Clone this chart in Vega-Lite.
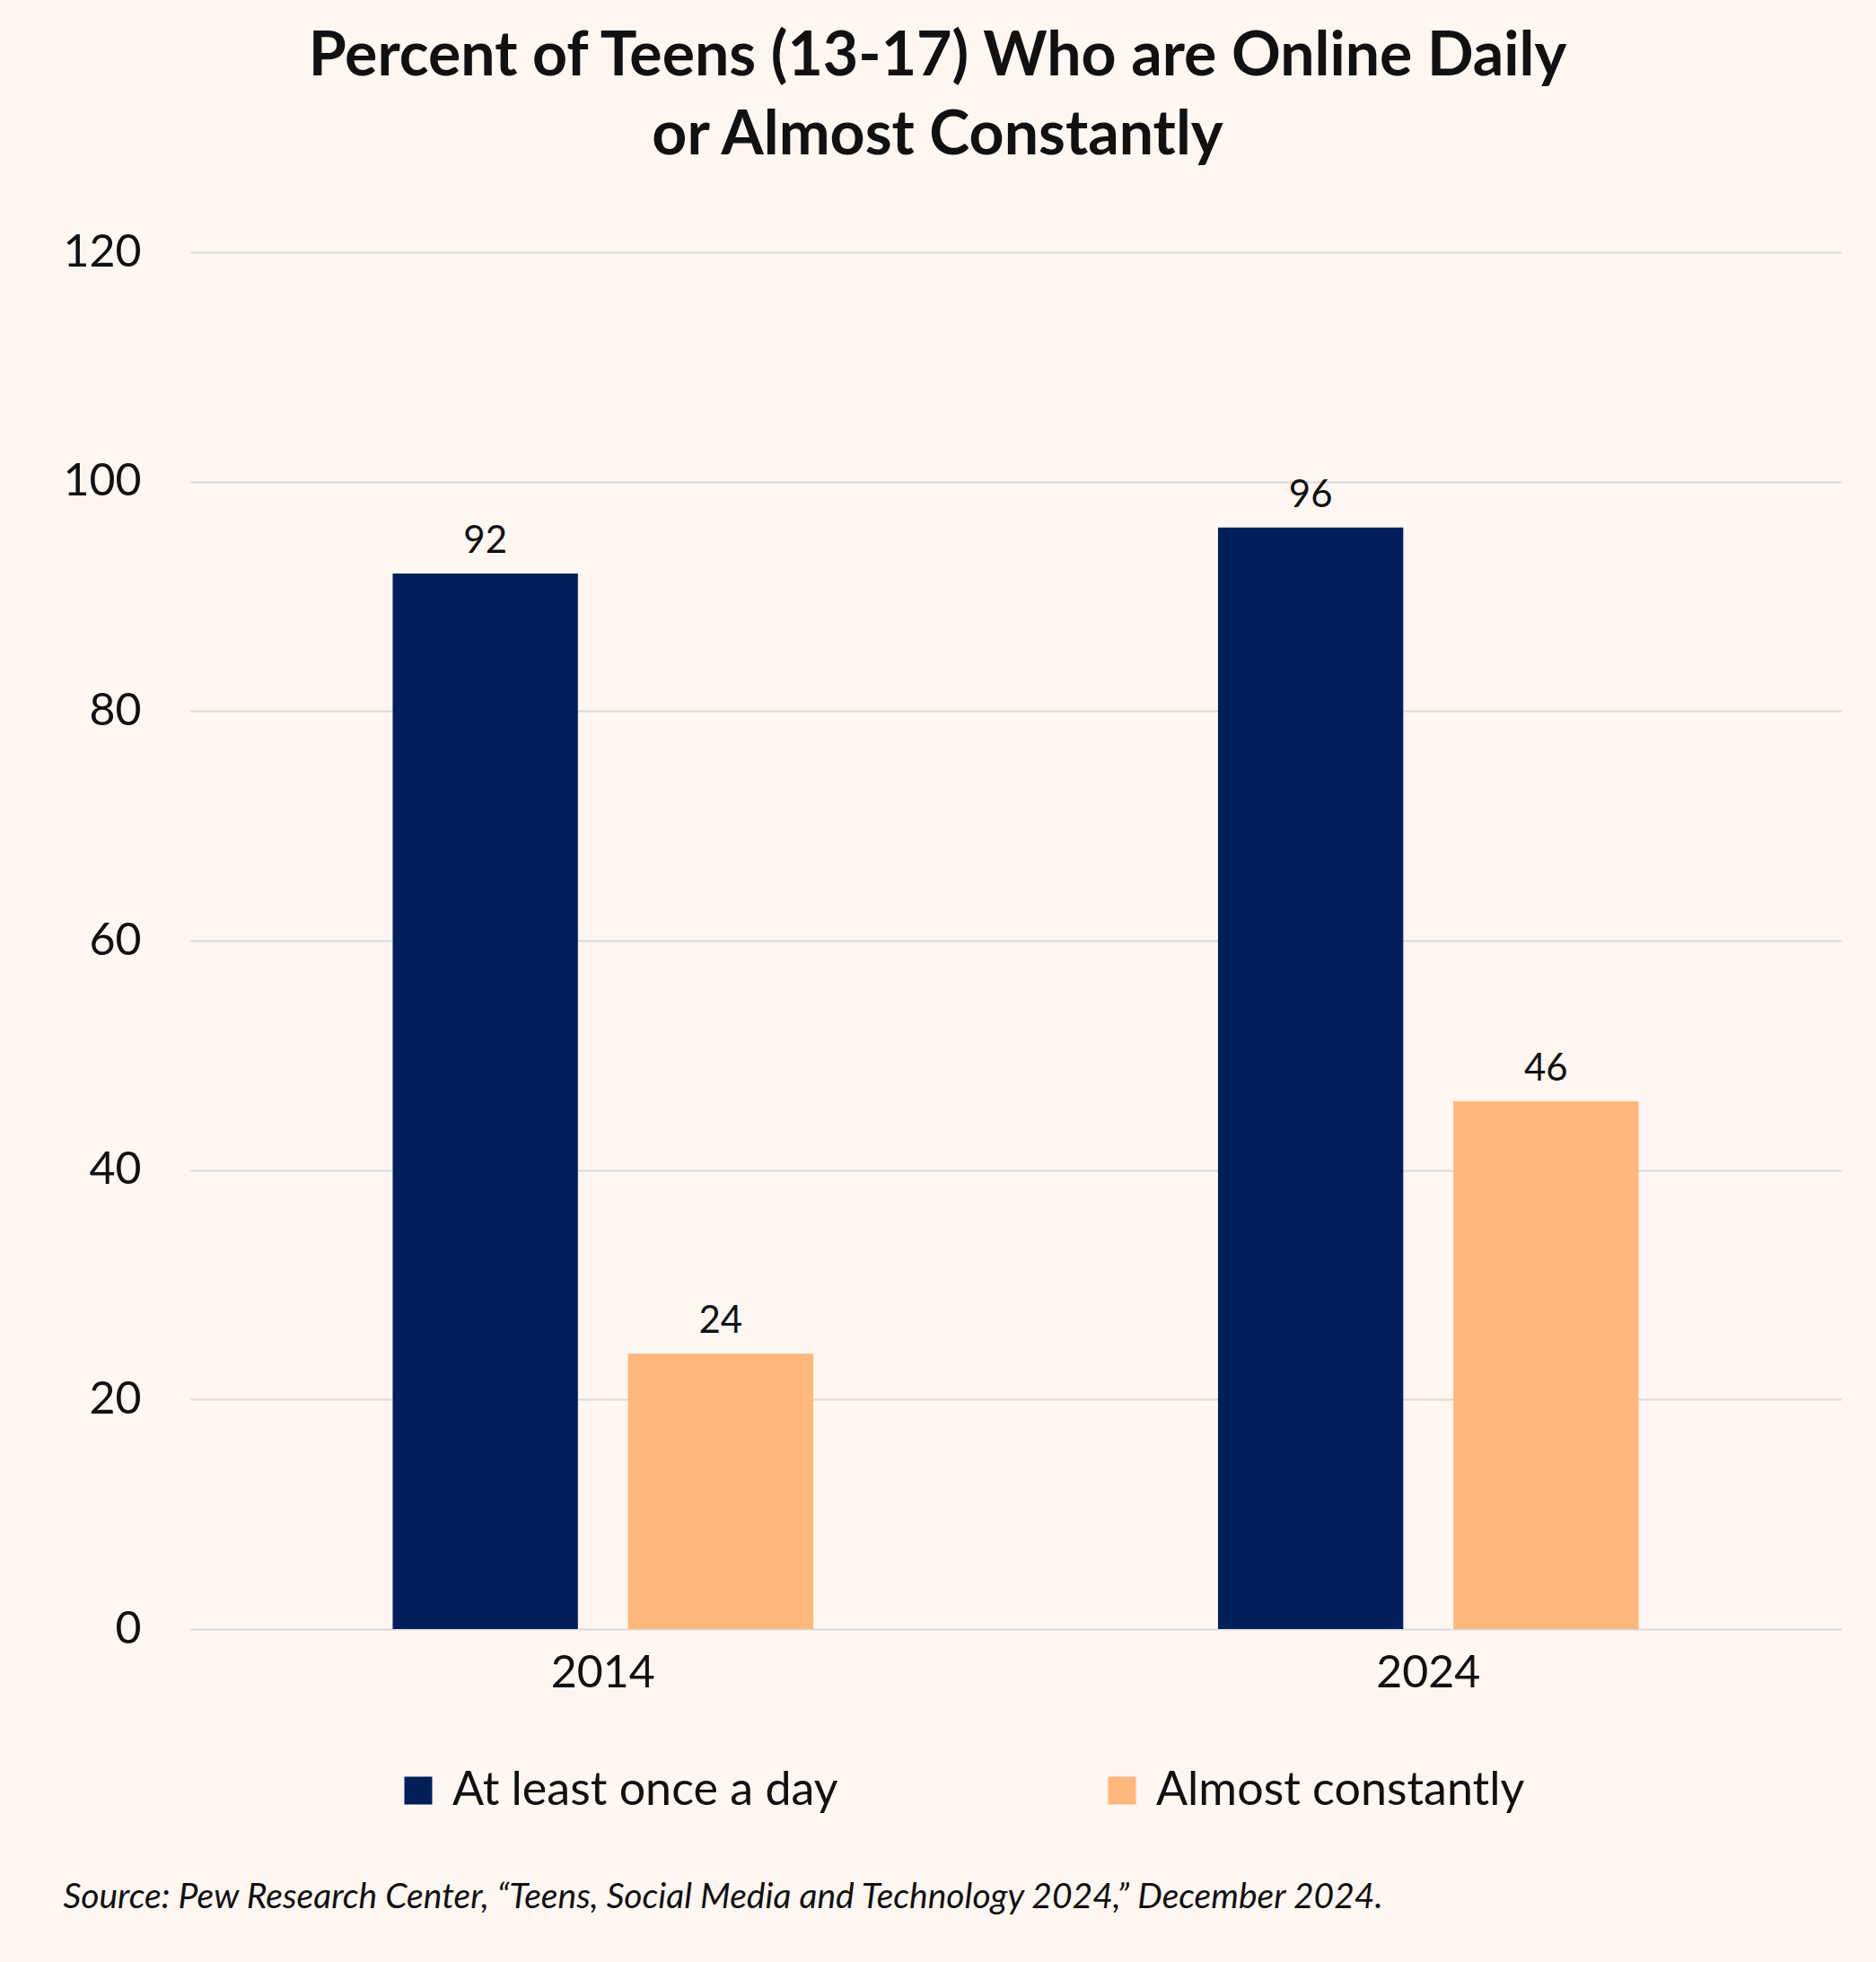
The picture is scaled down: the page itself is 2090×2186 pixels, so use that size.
{
  "$schema": "https://vega.github.io/schema/vega-lite/v6.json",
  "autosize": "none",
  "width": 1839,
  "height": 1534,
  "padding": {"left": 212, "top": 281, "right": 39, "bottom": 371},
  "background": "#fdf6f1",
  "title": {
    "text": ["Percent of Teens (13-17) Who are Online Daily", "or Almost Constantly"],
    "font": "Lato",
    "fontWeight": "bold",
    "fontSize": 68,
    "lineHeight": 88,
    "color": "#111111",
    "anchor": "middle",
    "dx": -87,
    "offset": 70
  },
  "data": {
    "values": [
      {"year": "2014", "series": "At least once a day", "value": 92},
      {"year": "2014", "series": "Almost constantly", "value": 24},
      {"year": "2024", "series": "At least once a day", "value": 96},
      {"year": "2024", "series": "Almost constantly", "value": 46}
    ]
  },
  "config": {
    "view": {"stroke": null},
    "font": "Lato"
  },
  "encoding": {
    "x": {
      "field": "year",
      "type": "nominal",
      "scale": {"paddingInner": 0, "paddingOuter": 0},
      "axis": {
        "title": "Source: Pew Research Center, \u201cTeens, Social Media and Technology 2024,\u201d December 2024.",
        "titleFont": "Lato",
        "titleFontStyle": "italic",
        "titleFontWeight": "normal",
        "titleFontSize": 39,
        "titleColor": "#111111",
        "titleAnchor": "start",
        "titleAlign": "left",
        "titleBaseline": "alphabetic",
        "titleX": -142,
        "titleY": 310,
        "labelAngle": 0,
        "labelFontSize": 50,
        "labelColor": "#111111",
        "labelPadding": 24,
        "ticks": false,
        "domain": false
      }
    },
    "xOffset": {
      "field": "series",
      "type": "nominal",
      "sort": ["At least once a day", "Almost constantly"],
      "scale": {"paddingInner": 0.213, "paddingOuter": 0.86}
    },
    "y": {
      "field": "value",
      "type": "quantitative",
      "scale": {"domain": [0, 120]},
      "axis": {
        "title": null,
        "values": [0, 20, 40, 60, 80, 100, 120],
        "labelFontSize": 50,
        "labelColor": "#111111",
        "labelPadding": 55,
        "ticks": false,
        "domain": false,
        "gridColor": "#d9d9d9",
        "gridWidth": 2
      }
    }
  },
  "layer": [
    {
      "mark": {"type": "bar"},
      "encoding": {
        "color": {
          "field": "series",
          "type": "nominal",
          "sort": ["At least once a day", "Almost constantly"],
          "scale": {"domain": ["At least once a day", "Almost constantly"], "range": ["#001f5b", "#ffb77b"]},
          "legend": {
            "title": null,
            "orient": "none",
            "direction": "horizontal",
            "legendX": 228,
            "legendY": 1688,
            "symbolType": "square",
            "symbolSize": 961,
            "labelFontSize": 52,
            "labelColor": "#111111",
            "labelLimit": 800,
            "columnPadding": 290,
            "labelOffset": 12
          }
        }
      }
    },
    {
      "mark": {"type": "text", "baseline": "bottom", "dy": -14, "fontSize": 42, "color": "#111111"},
      "encoding": {
        "text": {"field": "value", "type": "quantitative"}
      }
    }
  ]
}
